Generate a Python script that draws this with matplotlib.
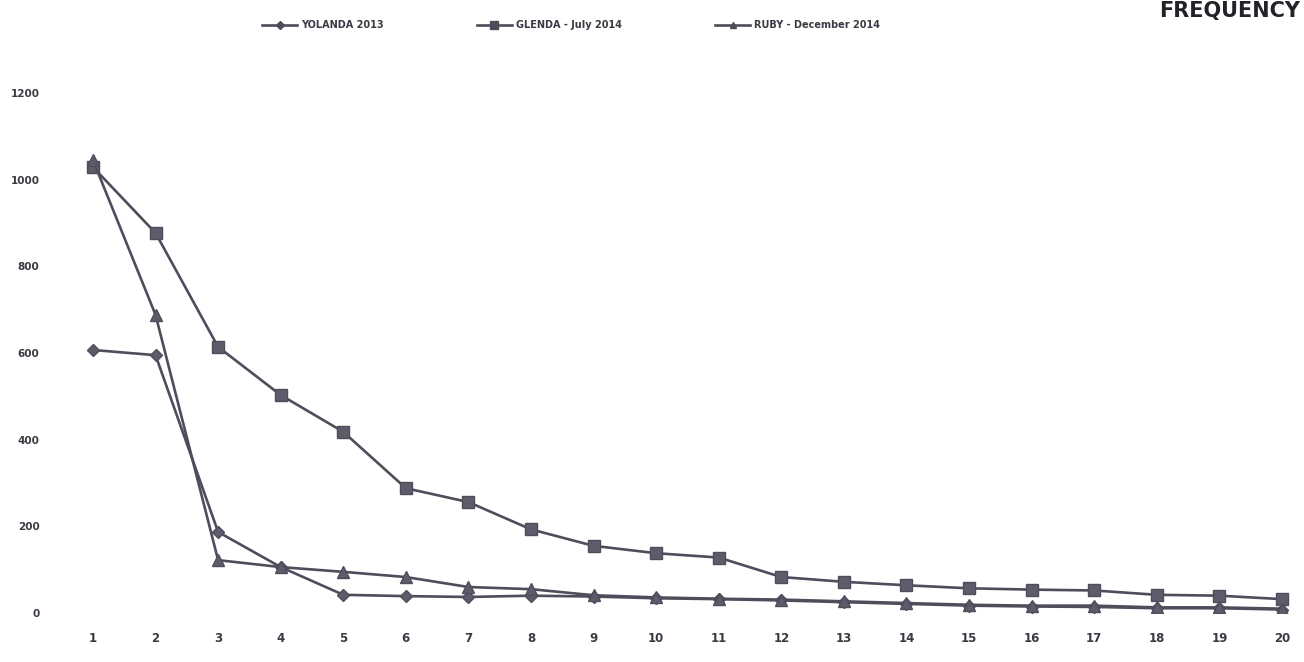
import matplotlib.pyplot as plt
from matplotlib.lines import Line2D

# ============================
# DATA
# ============================
rank = list(range(1, 21))

yolanda = [607, 595, 187, 106, 42, 39, 37, 40, 38, 34, 32, 29, 25, 21, 17, 15, 14, 11, 11, 8]
glenda = [1029, 877, 614, 503, 418, 288, 256, 193, 155, 138, 128, 83, 72, 64, 57, 54, 52, 42, 40, 32]
ruby = [1045, 688, 122, 106, 95, 83, 60, 55, 41, 36, 33, 31, 27, 23, 19, 17, 17, 13, 13, 10]

series_names = ["YOLANDA 2013", "GLENDA - July 2014", "RUBY - December 2014"]

line_color = "#4d4d5c"
marker_fill = "#5c5c6a"
text_color = "#3a3a44"
narrow = ["DejaVu Sans Condensed", "Liberation Sans Narrow", "DejaVu Sans"]

# ============================
# PLOT
# ============================
fig = plt.figure(figsize=(13.04, 6.62), dpi=100)
ax = fig.add_axes([0.0473, 0.074, 0.9502, 0.7855])

ax.plot(rank, yolanda, color=line_color, lw=1.9, marker="D", ms=6,
        mfc=marker_fill, mec=line_color)
ax.plot(rank, glenda, color=line_color, lw=1.9, marker="s", ms=8,
        mfc=marker_fill, mec=line_color)
ax.plot(rank, ruby, color=line_color, lw=1.9, marker="^", ms=8,
        mfc=marker_fill, mec=line_color)

ax.set_xlim(0.5, 20.3)
ax.set_ylim(0, 1200)
ax.set_xticks(rank)
ax.set_yticks(range(0, 1201, 200))

for side in ["top", "right", "left", "bottom"]:
    ax.spines[side].set_visible(False)

ax.tick_params(axis="y", length=0, pad=16, labelcolor=text_color)
ax.tick_params(axis="x", length=0, pad=14, labelcolor=text_color)
for lbl in ax.get_yticklabels():
    lbl.set_fontfamily(narrow)
    lbl.set_fontsize(7.5)
    lbl.set_fontweight("bold")
for lbl in ax.get_xticklabels():
    lbl.set_fontfamily(narrow)
    lbl.set_fontsize(8.5)
    lbl.set_fontweight("bold")

# ============================
# LEGEND + TITLE
# ============================
handles = [
    Line2D([], [], color=line_color, lw=1.9, marker="D", ms=4.5),
    Line2D([], [], color=line_color, lw=1.9, marker="s", ms=5.5),
    Line2D([], [], color=line_color, lw=1.9, marker="^", ms=5),
]
leg = fig.legend(handles, series_names, loc="center left", ncol=3,
                 bbox_to_anchor=(0.201, 0.962), frameon=False,
                 prop={"family": narrow, "size": 7, "weight": "bold"},
                 handlelength=3.6, columnspacing=9.6, handletextpad=0.4,
                 borderpad=0, borderaxespad=0)
for t in leg.get_texts():
    t.set_color(text_color)

fig.text(0.997, 0.999, "FREQUENCY", ha="right", va="top",
         fontsize=15, fontweight="bold", color="#222228")

plt.savefig("out.png", dpi=100)
